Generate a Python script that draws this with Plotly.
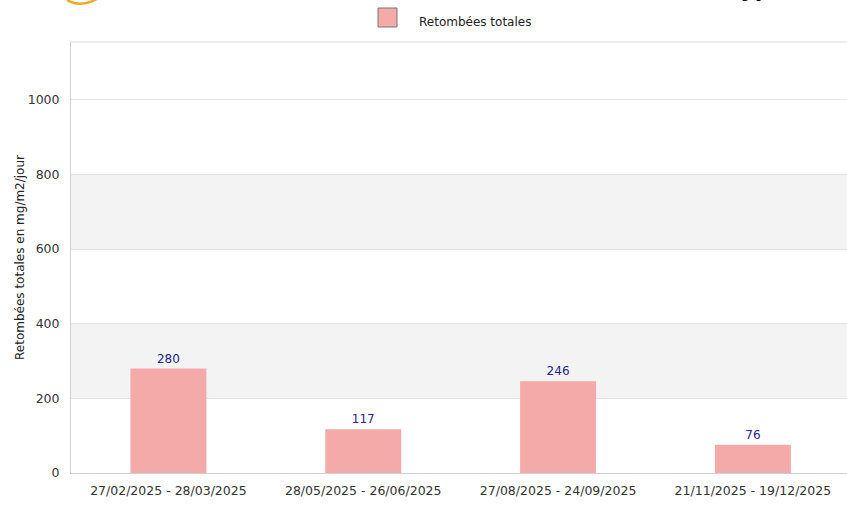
import plotly.graph_objects as go

categories = ["27/02/2025 - 28/03/2025", "28/05/2025 - 26/06/2025",
              "27/08/2025 - 24/09/2025", "21/11/2025 - 19/12/2025"]
values = [280, 117, 246, 76]
series_name = "Retombées totales"
y_title = "Retombées totales en mg/m2/jour"
y_ticks = [0, 200, 400, 600, 800, 1000]

FONT = "DejaVu Sans"
BAR = "#f5aaaa"

fig = go.Figure()
fig.add_trace(go.Bar(
    x=categories, y=values, name=series_name,
    marker=dict(color=BAR, line=dict(width=0)),
    width=0.39,
    text=[str(v) for v in values], textposition="outside",
    textfont=dict(family=FONT, size=12, color="#24248c"),
    cliponaxis=False, showlegend=False,
))

shapes = []
for y0, y1 in [(200, 400), (600, 800)]:
    shapes.append(dict(type="rect", xref="paper", yref="y", x0=0, x1=1, y0=y0, y1=y1,
                       fillcolor="#f3f3f3", line=dict(width=0), layer="below"))
# top border
shapes.append(dict(type="line", xref="paper", yref="paper", x0=0, x1=1, y0=1, y1=1,
                   line=dict(color="#d9d9d9", width=1)))
# legend swatch (page pixel positions -> paper coords)
W, H = 776, 431
def px(x): return (x - 71) / W
def py(y): return (473 - y) / H
shapes.append(dict(type="rect", xref="paper", yref="paper",
                   x0=px(378), x1=px(397), y0=py(27), y1=py(8),
                   fillcolor=BAR, line=dict(color="#777777", width=1)))
# logo arc fragment
shapes.append(dict(type="path", xref="paper", yref="paper",
                   path=f"M {px(67)},{py(0)} Q {px(80)},{py(8)} {px(97)},{py(-1)}",
                   line=dict(color="#f2a623", width=2.5)))

fig.update_layout(
    width=847, height=505,
    margin=dict(l=71, r=0, t=42, b=32),
    paper_bgcolor="white", plot_bgcolor="white",
    font=dict(family=FONT, size=12, color="#333333"),
    shapes=shapes,
    xaxis=dict(range=[-0.5, 3.483], showgrid=False, showline=True, linecolor="#d0d0d0",
               ticks="outside", ticklen=6, tickcolor="rgba(0,0,0,0)",
               tickfont=dict(family=FONT, size=12.5, color="#333333")),
    yaxis=dict(range=[0, 1155], tickvals=y_ticks, showgrid=True, gridcolor="#e3e3e3",
               showline=True, linecolor="#d0d0d0", zeroline=False,
               ticks="outside", ticklen=8, tickcolor="rgba(0,0,0,0)",
               tickfont=dict(family=FONT, size=12.5, color="#333333"),
               title=dict(text=y_title, font=dict(family=FONT, size=12, color="#222222"),
                          standoff=0)),
    annotations=[
        dict(text=series_name, xref="paper", yref="paper", x=px(417), y=py(22),
             xanchor="left", yanchor="middle", showarrow=False,
             font=dict(family=FONT, size=12, color="#222222")),
        dict(text="<b>(Type)</b>", xref="paper", yref="paper", x=px(716), y=py(4),
             xanchor="left", yanchor="bottom", showarrow=False,
             font=dict(family=FONT, size=22, color="#111111")),
    ],
)

fig.write_html("out.html", config={"displayModeBar": False},
               post_script="document.body.style.margin='0';document.body.style.overflow='hidden';")
